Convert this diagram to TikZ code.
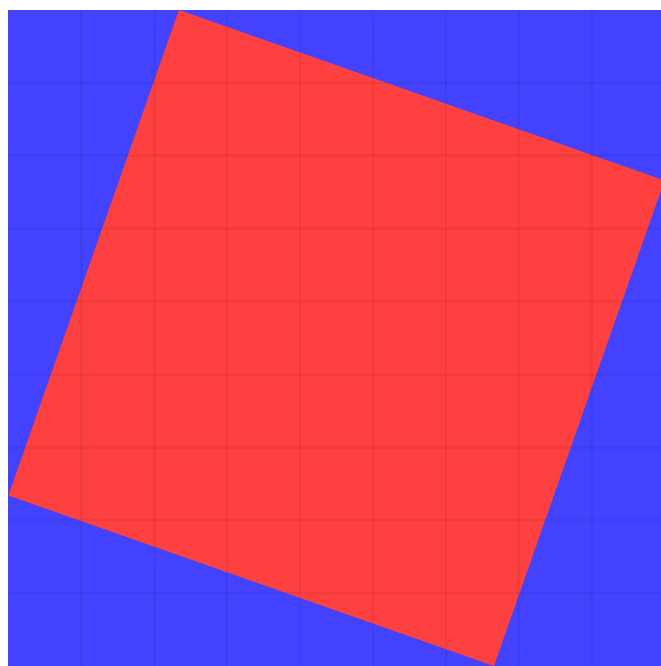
\documentclass[tikz,border=0pt]{standalone}
\usepackage{tikz}
\usepackage{xcolor}
\definecolor{fieldblue}{HTML}{4242FF}
\definecolor{tilered}{HTML}{FF4040}
\tikzset{
  field/.style={fill=fieldblue, draw=none},
  tile/.style={fill=tilered, draw=none},
  gridline/.style={draw=black, opacity=0.05, line width=1pt}
}

\begin{document}
\begin{tikzpicture}
  \useasboundingbox (-0.116,0) rectangle (8.952,9.137);
  \clip (-0.116,0) rectangle (8.952,9.137);
  % corners of the turned square
  \coordinate (top) at (2.34,9);
  \coordinate (right) at (9,6.66);
  \coordinate (bottom) at (6.66,0);
  \coordinate (left) at (0,2.34);
  \fill[field] (0,0) rectangle (9,9);
  \fill[tile] (top) -- (right) -- (bottom) -- (left) -- cycle;
  \foreach \i in {1,...,8} {
    \draw[gridline] (\i,0) -- (\i,9);
    \draw[gridline] (0,\i) -- (9,\i);
  }
\end{tikzpicture}
\end{document}
